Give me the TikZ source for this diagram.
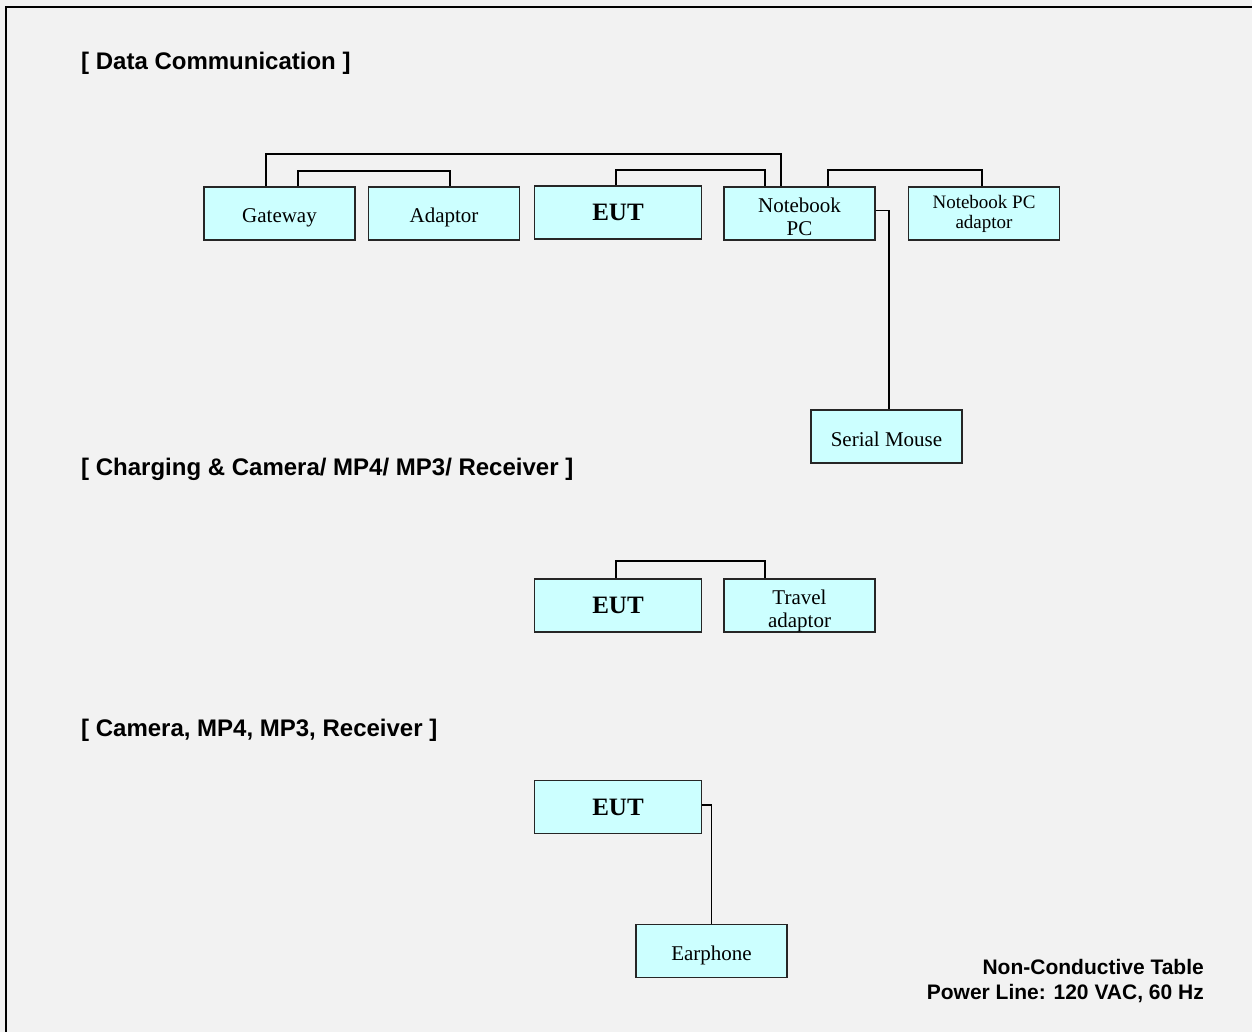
\documentclass[tikz,border=0pt]{standalone}
\usepackage{fontspec}
\setmainfont{Liberation Serif}
\setsansfont{Liberation Sans}
\definecolor{boxfill}{HTML}{CCFFFF}
\definecolor{tablegray}{HTML}{F2F2F2}

\begin{document}
\begin{tikzpicture}[
    x=1pt, y=-1pt,
    unitbox/.style={
        rectangle,
        draw=black!85,
        line width=1.3pt,
        fill=boxfill,
        inner sep=0pt,
        minimum width=151pt,
        minimum height=53pt,
        align=center,
        font=\fontsize{21}{23.5}\selectfont,
    },
    oneline/.style={
        unitbox,
        text height=19pt,
        text depth=0pt,
    },
    eutbox/.style={
        unitbox,
        minimum width=167pt,
        font=\fontsize{25}{28}\selectfont\bfseries,
    },
    title/.style={
        anchor=west,
        inner sep=0pt,
        font=\fontsize{24}{28}\selectfont\sffamily\bfseries,
    },
    cable/.style={
        line width=1.8pt,
    },
]

\useasboundingbox (0,0) rectangle (1252,1032);
\fill[tablegray] (0,0) rectangle (1252,1032);
\draw[line width=2pt] (6,1032) -- (6,7) -- (1252,7);

\node[title] (t1) at (81,63) {[ Data Communication ]};
\node[title] (t2) at (81,469) {[ Charging \& Camera/ MP4/ MP3/ Receiver ]};
\node[title] (t3) at (81,730) {[ Camera, MP4, MP3, Receiver ]};

% data communication
\node[oneline] (gw)   at (279.5,213.5) {Gateway};
\node[oneline] (ad)   at (444,213.5)   {Adaptor};
\node[eutbox]  (eut)  at (618,212.5)   {EUT};
\node[unitbox] (nb)   at (799.5,213.5) {\rule{0pt}{21.5pt}Notebook\\PC};
\node[unitbox, font=\fontsize{19}{20}\selectfont] (nbad) at (984,213.5) {Notebook PC\\adaptor};
\node[oneline] (sm)   at (886.5,436.5) {Serial Mouse};

\draw[cable] ([xshift=-13.5pt]gw.north) -- ++(0,-32) -| ([xshift=-18.5pt]nb.north);
\draw[cable] ([xshift=18.5pt]gw.north) -- ++(0,-15) -| ([xshift=6pt]ad.north);
\draw[cable] ([xshift=-2pt]eut.north) -- ++(0,-15) -| ([xshift=-34.5pt]nb.north);
\draw[cable] ([xshift=28.5pt]nb.north) -- ++(0,-16) -| ([xshift=-2pt]nbad.north);
\draw[cable] ([yshift=3pt]nb.east) -| ([xshift=2.5pt]sm.north);

% charging
\node[eutbox]  (eut2) at (618,605.5)   {EUT};
\node[unitbox] (ta)   at (799.5,605.5) {\rule{0pt}{25pt}Travel\\adaptor};

\draw[cable] ([xshift=-2pt]eut2.north) -- ++(0,-17) -| ([xshift=-34.5pt]ta.north);

% camera
\node[eutbox]  (eut3) at (618,807)     {EUT};
\node[oneline] (ep)   at (711.5,951)   {Earphone};

\draw[cable] ([yshift=2pt]eut3.east) -| (ep.north);

\node[anchor=north east, align=right, inner sep=0pt,
      font=\fontsize{21}{24.5}\selectfont\sffamily\bfseries] (tbl) at (1204,959.5)
      {Non-Conductive Table\\Power Line: 120 VAC, 60 Hz};

\end{tikzpicture}
\end{document}
